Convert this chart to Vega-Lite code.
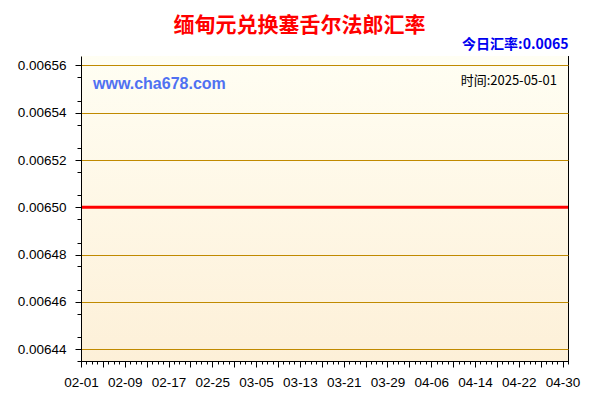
{
  "$schema": "https://vega.github.io/schema/vega-lite/v6.json",
  "width": 487,
  "height": 305,
  "autosize": {"type": "none"},
  "padding": {"left": 81, "top": 56, "right": 32, "bottom": 39},
  "background": "white",
  "title": {
    "text": "缅甸元兑换塞舌尔法郎汇率",
    "color": "#FF0000",
    "font": "Noto Sans CJK SC",
    "fontSize": 21,
    "fontWeight": "bold",
    "anchor": "middle",
    "dx": -25,
    "offset": 2
  },
  "data": {
    "values": [
      {"date": "2025-02-01", "rate": 0.0065}, {"date": "2025-02-02", "rate": 0.0065}, {"date": "2025-02-03", "rate": 0.0065},
      {"date": "2025-02-04", "rate": 0.0065}, {"date": "2025-02-05", "rate": 0.0065}, {"date": "2025-02-06", "rate": 0.0065},
      {"date": "2025-02-07", "rate": 0.0065}, {"date": "2025-02-08", "rate": 0.0065}, {"date": "2025-02-09", "rate": 0.0065},
      {"date": "2025-02-10", "rate": 0.0065}, {"date": "2025-02-11", "rate": 0.0065}, {"date": "2025-02-12", "rate": 0.0065},
      {"date": "2025-02-13", "rate": 0.0065}, {"date": "2025-02-14", "rate": 0.0065}, {"date": "2025-02-15", "rate": 0.0065},
      {"date": "2025-02-16", "rate": 0.0065}, {"date": "2025-02-17", "rate": 0.0065}, {"date": "2025-02-18", "rate": 0.0065},
      {"date": "2025-02-19", "rate": 0.0065}, {"date": "2025-02-20", "rate": 0.0065}, {"date": "2025-02-21", "rate": 0.0065},
      {"date": "2025-02-22", "rate": 0.0065}, {"date": "2025-02-23", "rate": 0.0065}, {"date": "2025-02-24", "rate": 0.0065},
      {"date": "2025-02-25", "rate": 0.0065}, {"date": "2025-02-26", "rate": 0.0065}, {"date": "2025-02-27", "rate": 0.0065},
      {"date": "2025-02-28", "rate": 0.0065}, {"date": "2025-03-01", "rate": 0.0065}, {"date": "2025-03-02", "rate": 0.0065},
      {"date": "2025-03-03", "rate": 0.0065}, {"date": "2025-03-04", "rate": 0.0065}, {"date": "2025-03-05", "rate": 0.0065},
      {"date": "2025-03-06", "rate": 0.0065}, {"date": "2025-03-07", "rate": 0.0065}, {"date": "2025-03-08", "rate": 0.0065},
      {"date": "2025-03-09", "rate": 0.0065}, {"date": "2025-03-10", "rate": 0.0065}, {"date": "2025-03-11", "rate": 0.0065},
      {"date": "2025-03-12", "rate": 0.0065}, {"date": "2025-03-13", "rate": 0.0065}, {"date": "2025-03-14", "rate": 0.0065},
      {"date": "2025-03-15", "rate": 0.0065}, {"date": "2025-03-16", "rate": 0.0065}, {"date": "2025-03-17", "rate": 0.0065},
      {"date": "2025-03-18", "rate": 0.0065}, {"date": "2025-03-19", "rate": 0.0065}, {"date": "2025-03-20", "rate": 0.0065},
      {"date": "2025-03-21", "rate": 0.0065}, {"date": "2025-03-22", "rate": 0.0065}, {"date": "2025-03-23", "rate": 0.0065},
      {"date": "2025-03-24", "rate": 0.0065}, {"date": "2025-03-25", "rate": 0.0065}, {"date": "2025-03-26", "rate": 0.0065},
      {"date": "2025-03-27", "rate": 0.0065}, {"date": "2025-03-28", "rate": 0.0065}, {"date": "2025-03-29", "rate": 0.0065},
      {"date": "2025-03-30", "rate": 0.0065}, {"date": "2025-03-31", "rate": 0.0065}, {"date": "2025-04-01", "rate": 0.0065},
      {"date": "2025-04-02", "rate": 0.0065}, {"date": "2025-04-03", "rate": 0.0065}, {"date": "2025-04-04", "rate": 0.0065},
      {"date": "2025-04-05", "rate": 0.0065}, {"date": "2025-04-06", "rate": 0.0065}, {"date": "2025-04-07", "rate": 0.0065},
      {"date": "2025-04-08", "rate": 0.0065}, {"date": "2025-04-09", "rate": 0.0065}, {"date": "2025-04-10", "rate": 0.0065},
      {"date": "2025-04-11", "rate": 0.0065}, {"date": "2025-04-12", "rate": 0.0065}, {"date": "2025-04-13", "rate": 0.0065},
      {"date": "2025-04-14", "rate": 0.0065}, {"date": "2025-04-15", "rate": 0.0065}, {"date": "2025-04-16", "rate": 0.0065},
      {"date": "2025-04-17", "rate": 0.0065}, {"date": "2025-04-18", "rate": 0.0065}, {"date": "2025-04-19", "rate": 0.0065},
      {"date": "2025-04-20", "rate": 0.0065}, {"date": "2025-04-21", "rate": 0.0065}, {"date": "2025-04-22", "rate": 0.0065},
      {"date": "2025-04-23", "rate": 0.0065}, {"date": "2025-04-24", "rate": 0.0065}, {"date": "2025-04-25", "rate": 0.0065},
      {"date": "2025-04-26", "rate": 0.0065}, {"date": "2025-04-27", "rate": 0.0065}, {"date": "2025-04-28", "rate": 0.0065},
      {"date": "2025-04-29", "rate": 0.0065}, {"date": "2025-04-30", "rate": 0.0065}, {"date": "2025-05-01", "rate": 0.0065}
    ]
  },
  "layer": [
    {
      "data": {"values": [{}]},
      "mark": {
        "type": "rect",
        "color": {
          "gradient": "linear",
          "x1": 0, "y1": 0, "x2": 0, "y2": 1,
          "stops": [
            {"offset": 0, "color": "#FFFEF3"},
            {"offset": 1, "color": "#FDF0D8"}
          ]
        }
      },
      "encoding": {
        "x": {"datum": {"year": 2025, "month": 2, "date": 1, "utc": true}, "type": "temporal", "scale": {"type": "utc"}, "axis": null},
        "x2": {"datum": {"year": 2025, "month": 5, "date": 1, "utc": true}},
        "y": {"datum": 0.006564, "type": "quantitative", "axis": null},
        "y2": {"datum": 0.006435}
      }
    },
    {
      "mark": {"type": "line", "opacity": 0},
      "encoding": {
        "x": {
          "field": "date",
          "type": "temporal",
          "scale": {"type": "utc"},
          "axis": {
            "orient": "bottom",
            "title": null,
            "grid": false,
            "labels": false,
            "ticks": true,
            "tickColor": "#000000",
            "tickCount": {"interval": "day", "step": 1},
            "tickSize": 3
          }
        },
        "y": {
          "field": "rate",
          "type": "quantitative",
          "axis": {
            "orient": "left",
            "title": null,
            "grid": false,
            "labels": false,
            "ticks": true,
            "tickColor": "#000000",
            "values": [0.006435, 0.006445, 0.006455, 0.006465, 0.006475, 0.006485, 0.006495, 0.006505, 0.006515, 0.006525, 0.006535, 0.006545, 0.006555],
            "tickSize": 4
          }
        }
      }
    },
    {
      "mark": {"type": "line", "opacity": 0},
      "encoding": {
        "x": {
          "field": "date",
          "type": "temporal",
          "scale": {"type": "utc"},
          "axis": {
            "orient": "top",
            "grid": false,
            "labels": false,
            "ticks": true,
            "tickColor": "#000000",
            "tickCount": {"interval": "day", "step": 1},
            "tickSize": -3,
            "title": "今日汇率:0.0065",
            "titleColor": "#0000F0",
            "titleFont": "Noto Sans CJK SC",
            "titleFontSize": 14,
            "titleFontWeight": "bold",
            "titleAnchor": "end",
            "titlePadding": 4
          }
        },
        "y": {
          "field": "rate",
          "type": "quantitative",
          "axis": {
            "orient": "right",
            "title": null,
            "grid": false,
            "labels": false,
            "ticks": true,
            "tickColor": "#000000",
            "values": [0.006435, 0.00644, 0.006445, 0.00645, 0.006455, 0.00646, 0.006465, 0.00647, 0.006475, 0.00648, 0.006485, 0.00649, 0.006495, 0.0065, 0.006505, 0.00651, 0.006515, 0.00652, 0.006525, 0.00653, 0.006535, 0.00654, 0.006545, 0.00655, 0.006555, 0.00656],
            "tickSize": -5
          }
        }
      }
    },
    {
      "mark": {"type": "line", "color": "#FF0000", "strokeWidth": 3},
      "encoding": {
        "x": {
          "field": "date",
          "type": "temporal",
          "scale": {
            "type": "utc",
            "domain": [
              {"year": 2025, "month": 2, "date": 1, "utc": true},
              {"year": 2025, "month": 5, "date": 1, "utc": true}
            ]
          },
          "axis": {
            "orient": "bottom",
            "title": null,
            "grid": false,
            "values": [1738368000000, 1738713600000, 1739059200000, 1739404800000, 1739750400000, 1740096000000, 1740441600000, 1740787200000, 1741132800000, 1741478400000, 1741824000000, 1742169600000, 1742515200000, 1742860800000, 1743206400000, 1743552000000, 1743897600000, 1744243200000, 1744588800000, 1744934400000, 1745280000000, 1745625600000, 1745971200000],
            "labelOverlap": false,
            "labelFlush": false,
            "labelPadding": 8,
            "labelExpr": "round((datum.value - 1738368000000) / 86400000) % 8 === 0 ? utcFormat(datum.value, '%m-%d') : ''",
            "ticks": true,
            "tickColor": "#000000",
            "tickSize": 6
          }
        },
        "y": {
          "field": "rate",
          "type": "quantitative",
          "scale": {"domain": [0.006435, 0.006564], "zero": false, "nice": false},
          "axis": {
            "orient": "left",
            "title": null,
            "values": [0.00644, 0.00646, 0.00648, 0.0065, 0.00652, 0.00654, 0.00656],
            "format": ".5f",
            "labelOverlap": false,
            "labelPadding": 9,
            "ticks": true,
            "tickColor": "#000000",
            "tickSize": 6,
            "grid": true,
            "gridColor": "#C08A00",
            "gridOpacity": {"condition": {"test": "round(datum.value * 100000) === 650", "value": 0}, "value": 1},
            "zindex": 1
          }
        }
      }
    },
    {
      "data": {"values": [{}]},
      "mark": {
        "type": "text",
        "text": "www.cha678.com",
        "align": "left",
        "baseline": "middle",
        "dx": 12,
        "font": "Liberation Sans",
        "fontSize": 16,
        "fontWeight": "bold",
        "color": "#5071F2"
      },
      "encoding": {
        "x": {"datum": {"year": 2025, "month": 2, "date": 1, "utc": true}, "type": "temporal", "scale": {"type": "utc"}, "axis": null},
        "y": {"datum": 0.0065522, "type": "quantitative", "axis": null}
      }
    },
    {
      "data": {"values": [{}]},
      "mark": {
        "type": "text",
        "text": "时间:2025-05-01",
        "align": "right",
        "baseline": "middle",
        "dx": -11,
        "font": "Noto Sans CJK SC",
        "fontSize": 13,
        "color": "#000000"
      },
      "encoding": {
        "x": {"datum": {"year": 2025, "month": 5, "date": 1, "utc": true}, "type": "temporal", "scale": {"type": "utc"}, "axis": null},
        "y": {"datum": 0.0065534, "type": "quantitative", "axis": null}
      }
    }
  ],
  "resolve": {"axis": {"x": "independent", "y": "independent"}},
  "config": {
    "view": {"stroke": "#000000", "strokeWidth": 1},
    "axis": {
      "domainColor": "#000000",
      "labelColor": "#000000",
      "labelFont": "Liberation Sans",
      "labelFontSize": 13.5
    }
  }
}
